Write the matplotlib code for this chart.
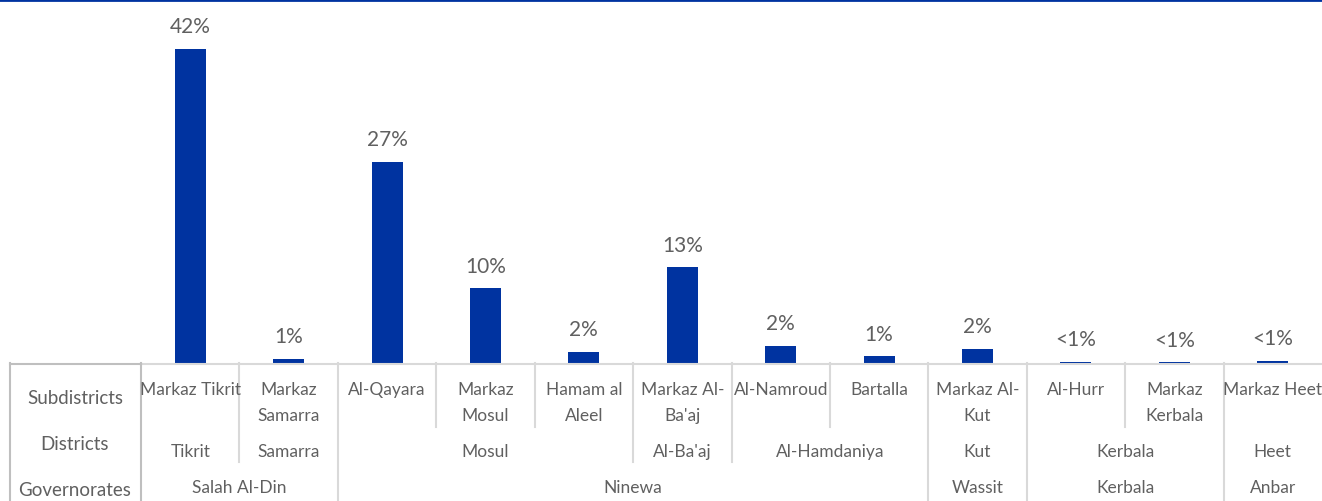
import matplotlib.pyplot as plt

plt.rcParams['font.family'] = ['Lato', 'DejaVu Sans']

# data
subdistricts = ['Markaz Tikrit', 'Markaz\nSamarra', 'Al-Qayara', 'Markaz\nMosul', 'Hamam al\nAleel',
                'Markaz Al-\nBa\'aj', 'Al-Namroud', 'Bartalla', 'Markaz Al-\nKut', 'Al-Hurr',
                'Markaz\nKerbala', 'Markaz Heet']
share = [42, 0.6, 26.9, 10, 1.5, 12.8, 2.3, 0.9, 1.9, 0.2, 0.1, 0.3]
share_labels = ['42%', '1%', '27%', '10%', '2%', '13%', '2%', '1%', '2%', '<1%', '<1%', '<1%']
# (name, first subdistrict index, end index)
districts = [('Tikrit', 0, 1), ('Samarra', 1, 2), ('Mosul', 2, 5), ("Al-Ba'aj", 5, 6),
             ('Al-Hamdaniya', 6, 8), ('Kut', 8, 9), ('Kerbala', 9, 11), ('Heet', 11, 12)]
governorates = [('Salah Al-Din', 0, 2), ('Ninewa', 2, 8), ('Wassit', 8, 9),
                ('Kerbala', 9, 11), ('Anbar', 11, 12)]

W, H = 1322, 502
blue = '#0033a0'
txt = '#606060'
grid = '#d9d9d9'
box = '#bfbfbf'

fig = plt.figure(figsize=(W / 100, H / 100), dpi=100)

# bars
ax = fig.add_axes([141 / W, 138 / H, 1181 / W, 359 / H])
n = len(share)
ax.bar(range(n), share, width=0.315, color=blue)
for i in range(n):
    ax.annotate(share_labels[i], (i, share[i]), xytext=(0, 12), textcoords='offset points',
                ha='center', va='baseline', fontsize=15, color=txt)
ax.set_xlim(-0.5, n - 0.5)
ax.set_ylim(0, 48)
ax.axis('off')

# top rule
fig.add_artist(plt.Line2D([0, 1], [1 - 1 / H, 1 - 1 / H], transform=fig.transFigure, color=blue, lw=2))

# table under the bars
tb = fig.add_axes([141 / W, 0, 1181 / W, 138 / H])
tb.set_xlim(-0.5, n - 0.5)
tb.set_ylim(138, 0)
tb.axis('off')

row_sub, row_dist, row_gov = 64, 99, 138
left = -0.5 - 131 / (1181 / n)
hdr_x = -0.5 - 66 / (1181 / n)

tb.plot([-0.5, n - 0.5], [0.5, 0.5], color=grid, lw=1.5, clip_on=False)
tb.plot([left, -0.5], [0.5, 0.5], color=box, lw=1.5, clip_on=False)
tb.plot([left, left], [0, row_gov], color=box, lw=1.5, clip_on=False)
tb.plot([-0.5, -0.5], [0, row_gov], color=box, lw=1.5, clip_on=False)

gov_edges = {s for _, s, e in governorates}
dist_edges = {s for _, s, e in districts}
for k in range(1, n):
    if k in gov_edges:
        bottom = row_gov
    elif k in dist_edges:
        bottom = row_dist
    else:
        bottom = row_sub
    tb.plot([k - 0.5, k - 0.5], [0, bottom], color=grid, lw=1.5, clip_on=False)

for name, y in [('Subdistricts', 35), ('Districts', 81), ('Governorates', 127)]:
    tb.text(hdr_x, y, name, ha='center', va='center', fontsize=13.5, color=txt, clip_on=False)

for i, label in enumerate(subdistricts):
    for j, line in enumerate(label.split('\n')):
        tb.text(i, 26 + 26 * j, line, ha='center', va='center', fontsize=12.5, color=txt)

for name, s, e in districts:
    tb.text((s + e - 1) / 2, 88, name, ha='center', va='center', fontsize=12.5, color=txt)
for name, s, e in governorates:
    tb.text((s + e - 1) / 2, 124, name, ha='center', va='center', fontsize=12.5, color=txt)

fig.savefig('out.png', dpi=100)
